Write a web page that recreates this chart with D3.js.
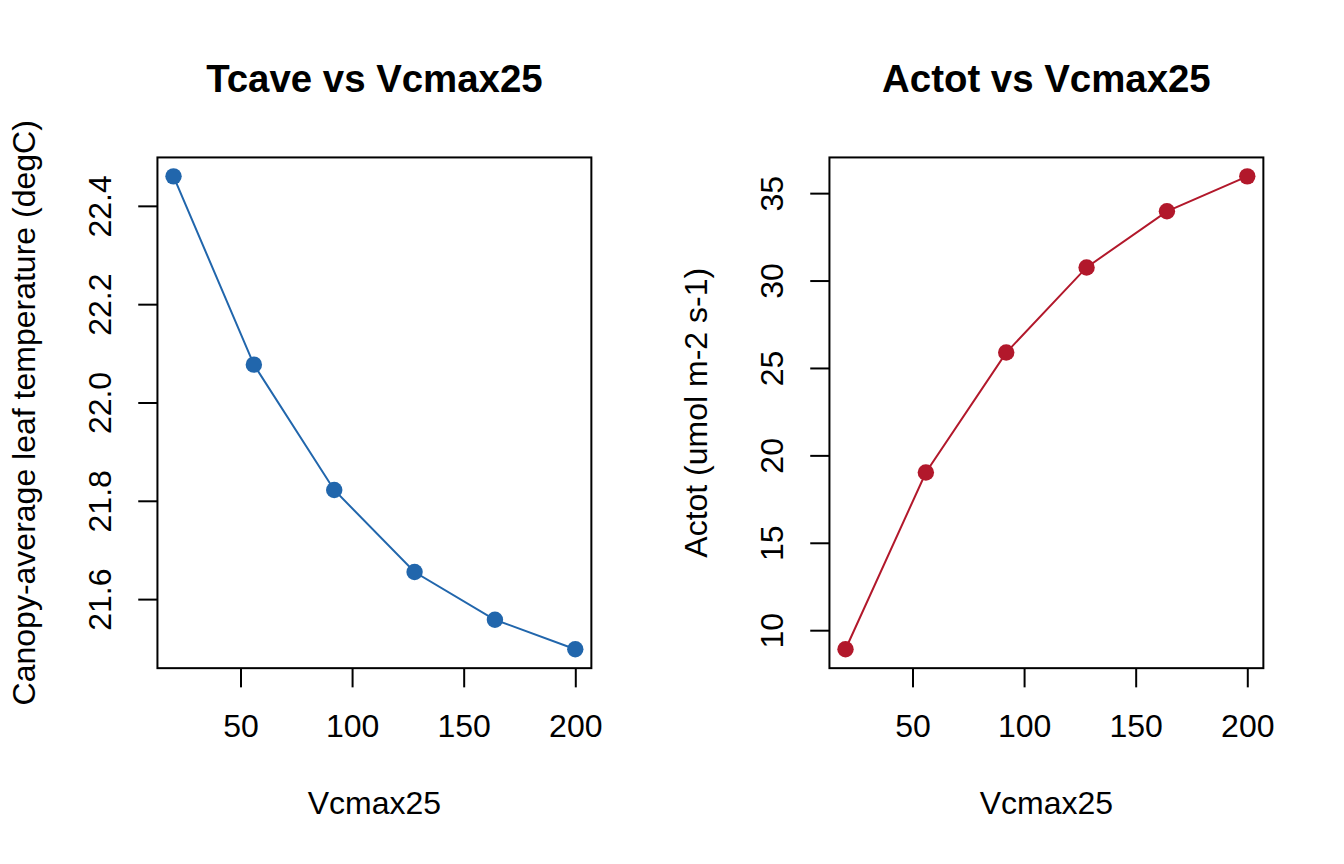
<!DOCTYPE html>
<html>
<head>
<meta charset="utf-8">
<script src="https://cdn.jsdelivr.net/npm/d3@7"></script>
<style>
  html, body { margin: 0; padding: 0; background: #fff; }
  svg { display: block; }
  text { font-family: "Liberation Sans", Arial, sans-serif; fill: #000; }
</style>
</head>
<body>
<div id="chart"></div>
<script>
// values
const vcmax = [20, 56, 92, 128, 164, 200]
const tcave = [22.46, 22.077, 21.822, 21.655, 21.558, 21.498]
const actot = [8.91, 19.02, 25.88, 30.75, 33.96, 35.96]

const xTicks = [50, 100, 150, 200]
const tcaveTicks = [21.6, 21.8, 22.0, 22.2, 22.4]
const actotTicks = [10, 15, 20, 25, 30, 35]

const width = 1344
const height = 864
const line = 38.4 // one R margin line at 192 dpi
const panelW = width / 2
const mar = { top: 4.1 * line, right: 2.1 * line, bottom: 5.1 * line, left: 4.1 * line }

const svg = d3
  .select("#chart")
  .append("svg")
  .attr("width", width)
  .attr("height", height)

// R style 4% padding around the data range
function padded(values) {
  const [lo, hi] = d3.extent(values)
  const pad = (hi - lo) * 0.04
  return [lo - pad, hi + pad]
}

function drawPanel(offsetX, opts) {
  const g = svg.append("g").attr("transform", `translate(${offsetX},0)`)
  const x0 = mar.left
  const x1 = panelW - mar.right
  const y0 = mar.top
  const y1 = height - mar.bottom

  const xScale = d3.scaleLinear().domain(padded(vcmax)).range([x0, x1])
  const yScale = d3.scaleLinear().domain(padded(opts.values)).range([y1, y0])

  // x axis
  const xAxis = g
    .append("g")
    .attr("transform", `translate(0,${y1})`)
    .call(d3.axisBottom(xScale).tickValues(xTicks).tickSize(19.2).tickSizeOuter(0))
  xAxis.select(".domain").remove()
  xAxis.selectAll("line").attr("stroke", "#000").attr("stroke-width", 2)
  xAxis
    .selectAll("text")
    .attr("y", 68.5)
    .attr("dy", 0)
    .attr("font-size", 32)
    .attr("font-family", "Liberation Sans, Arial, sans-serif")
    .attr("fill", "#000")

  // y axis with rotated labels
  const yAxis = g
    .append("g")
    .attr("transform", `translate(${x0},0)`)
    .call(
      d3.axisLeft(yScale)
        .tickValues(opts.ticks)
        .tickFormat(opts.format)
        .tickSize(19.2)
        .tickSizeOuter(0)
    )
  yAxis.select(".domain").remove()
  yAxis.selectAll("line").attr("stroke", "#000").attr("stroke-width", 2)
  yAxis
    .selectAll("text")
    .attr("x", 0)
    .attr("dy", 0)
    .attr("transform", "translate(-46.1,0) rotate(-90)")
    .attr("text-anchor", "middle")
    .attr("font-size", 32)
    .attr("font-family", "Liberation Sans, Arial, sans-serif")
    .attr("fill", "#000")

  // box
  g.append("rect")
    .attr("x", x0)
    .attr("y", y0)
    .attr("width", x1 - x0)
    .attr("height", y1 - y0)
    .attr("fill", "none")
    .attr("stroke", "#000")
    .attr("stroke-width", 2)

  // line and points
  const pts = vcmax.map((v, i) => [v, opts.values[i]])
  g.append("path")
    .datum(pts)
    .attr("fill", "none")
    .attr("stroke", opts.color)
    .attr("stroke-width", 2)
    .attr("d", d3.line().x(d => xScale(d[0])).y(d => yScale(d[1])))

  g.selectAll("circle")
    .data(pts)
    .enter()
    .append("circle")
    .attr("cx", d => xScale(d[0]))
    .attr("cy", d => yScale(d[1]))
    .attr("r", 8.2)
    .attr("fill", opts.color)

  // titles
  const cx = (x0 + x1) / 2
  const cy = (y0 + y1) / 2
  g.append("text")
    .attr("x", cx)
    .attr("y", 92)
    .attr("text-anchor", "middle")
    .attr("font-size", 38.4)
    .attr("font-weight", "bold")
    .text(opts.title)

  g.append("text")
    .attr("x", cx)
    .attr("y", y1 + 3.8 * line)
    .attr("text-anchor", "middle")
    .attr("font-size", 32)
    .text("Vcmax25")

  g.append("text")
    .attr("transform", `translate(${x0 - 3.2 * line},${cy}) rotate(-90)`)
    .attr("text-anchor", "middle")
    .attr("font-size", 32)
    .text(opts.ylab)
}

drawPanel(0, {
  values: tcave,
  ticks: tcaveTicks,
  format: d3.format(".1f"),
  color: "#2166AC",
  title: "Tcave vs Vcmax25",
  ylab: "Canopy-average leaf temperature (degC)",
})

drawPanel(panelW, {
  values: actot,
  ticks: actotTicks,
  format: d3.format("d"),
  color: "#B2182B",
  title: "Actot vs Vcmax25",
  ylab: "Actot (umol m-2 s-1)",
})
</script>
</body>
</html>
